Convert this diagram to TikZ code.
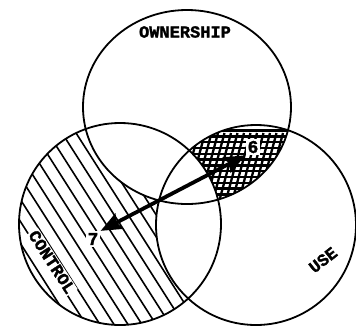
\documentclass[tikz,border=0pt]{standalone}
\usepackage{fontspec}
\setmonofont[BoldFeatures={FakeBold=1.6}]{Liberation Mono}
\usetikzlibrary{arrows.meta}
\tikzset{
  ring/.style={line width=1.8pt},
  hatch/.style={line width=1.6pt},
  grid/.style={line width=2.3pt},
  lbl/.style={font=\ttfamily\bfseries\fontsize{17}{17}\selectfont,inner sep=1pt},
  num/.style={font=\ttfamily\bfseries\fontsize{18}{18}\selectfont,fill=white,inner sep=2pt},
  dblarrow/.style={
    {Stealth[length=21pt,width=17pt,inset=3pt]}-{Stealth[length=21pt,width=17pt,inset=3pt]},
    line width=3.8pt
  }
}

\begin{document}
\begin{tikzpicture}[x=1pt,y=-1pt]
\useasboundingbox (0,0) rectangle (356,333);
\coordinate (own) at (187,107);
\coordinate (ctl) at (120,224);
\coordinate (use) at (256,225);
\def\ownpath{(own) ellipse[x radius=104pt,y radius=97pt]}

% cross-hatched lens
\begin{scope}
\clip \ownpath;
\clip (use) circle[radius=100pt];
\foreach \k in {0,...,24}
  \draw[grid] (150,90+5.8*\k) -- (300,90+5.8*\k);
\foreach \k in {0,...,30}
  \draw[grid] (140+6.5*\k,230) -- ++(26,-97);
\fill[white] (ctl) circle[radius=100.5pt];
\end{scope}

% hatched part of control
\begin{scope}
\clip (ctl) circle[radius=101pt];
\foreach \k in {-14,...,14}
  \draw[hatch] (120+14*\k-86,224-135) -- (120+14*\k+86,224+135);
\fill[white] \ownpath;
\fill[white] (use) circle[radius=100pt];
\end{scope}

\draw[ring] \ownpath;
\draw[ring] (ctl) circle[radius=101pt];
\draw[ring] (use) circle[radius=100pt];

\node[lbl] (ownlbl) at (185,32) {OWNERSHIP};
\node[lbl,fill=white,rotate=-57] (ctllbl) at (52,262) {CONTROL};
\node[lbl,rotate=38] (uselbl) at (323,260) {USE};
\node[num] (six) at (253,147) {6};
\node[num] (seven) at (93,239) {7};

\draw[dblarrow] (seven.north east) -- (six.south west);
\end{tikzpicture}
\end{document}
